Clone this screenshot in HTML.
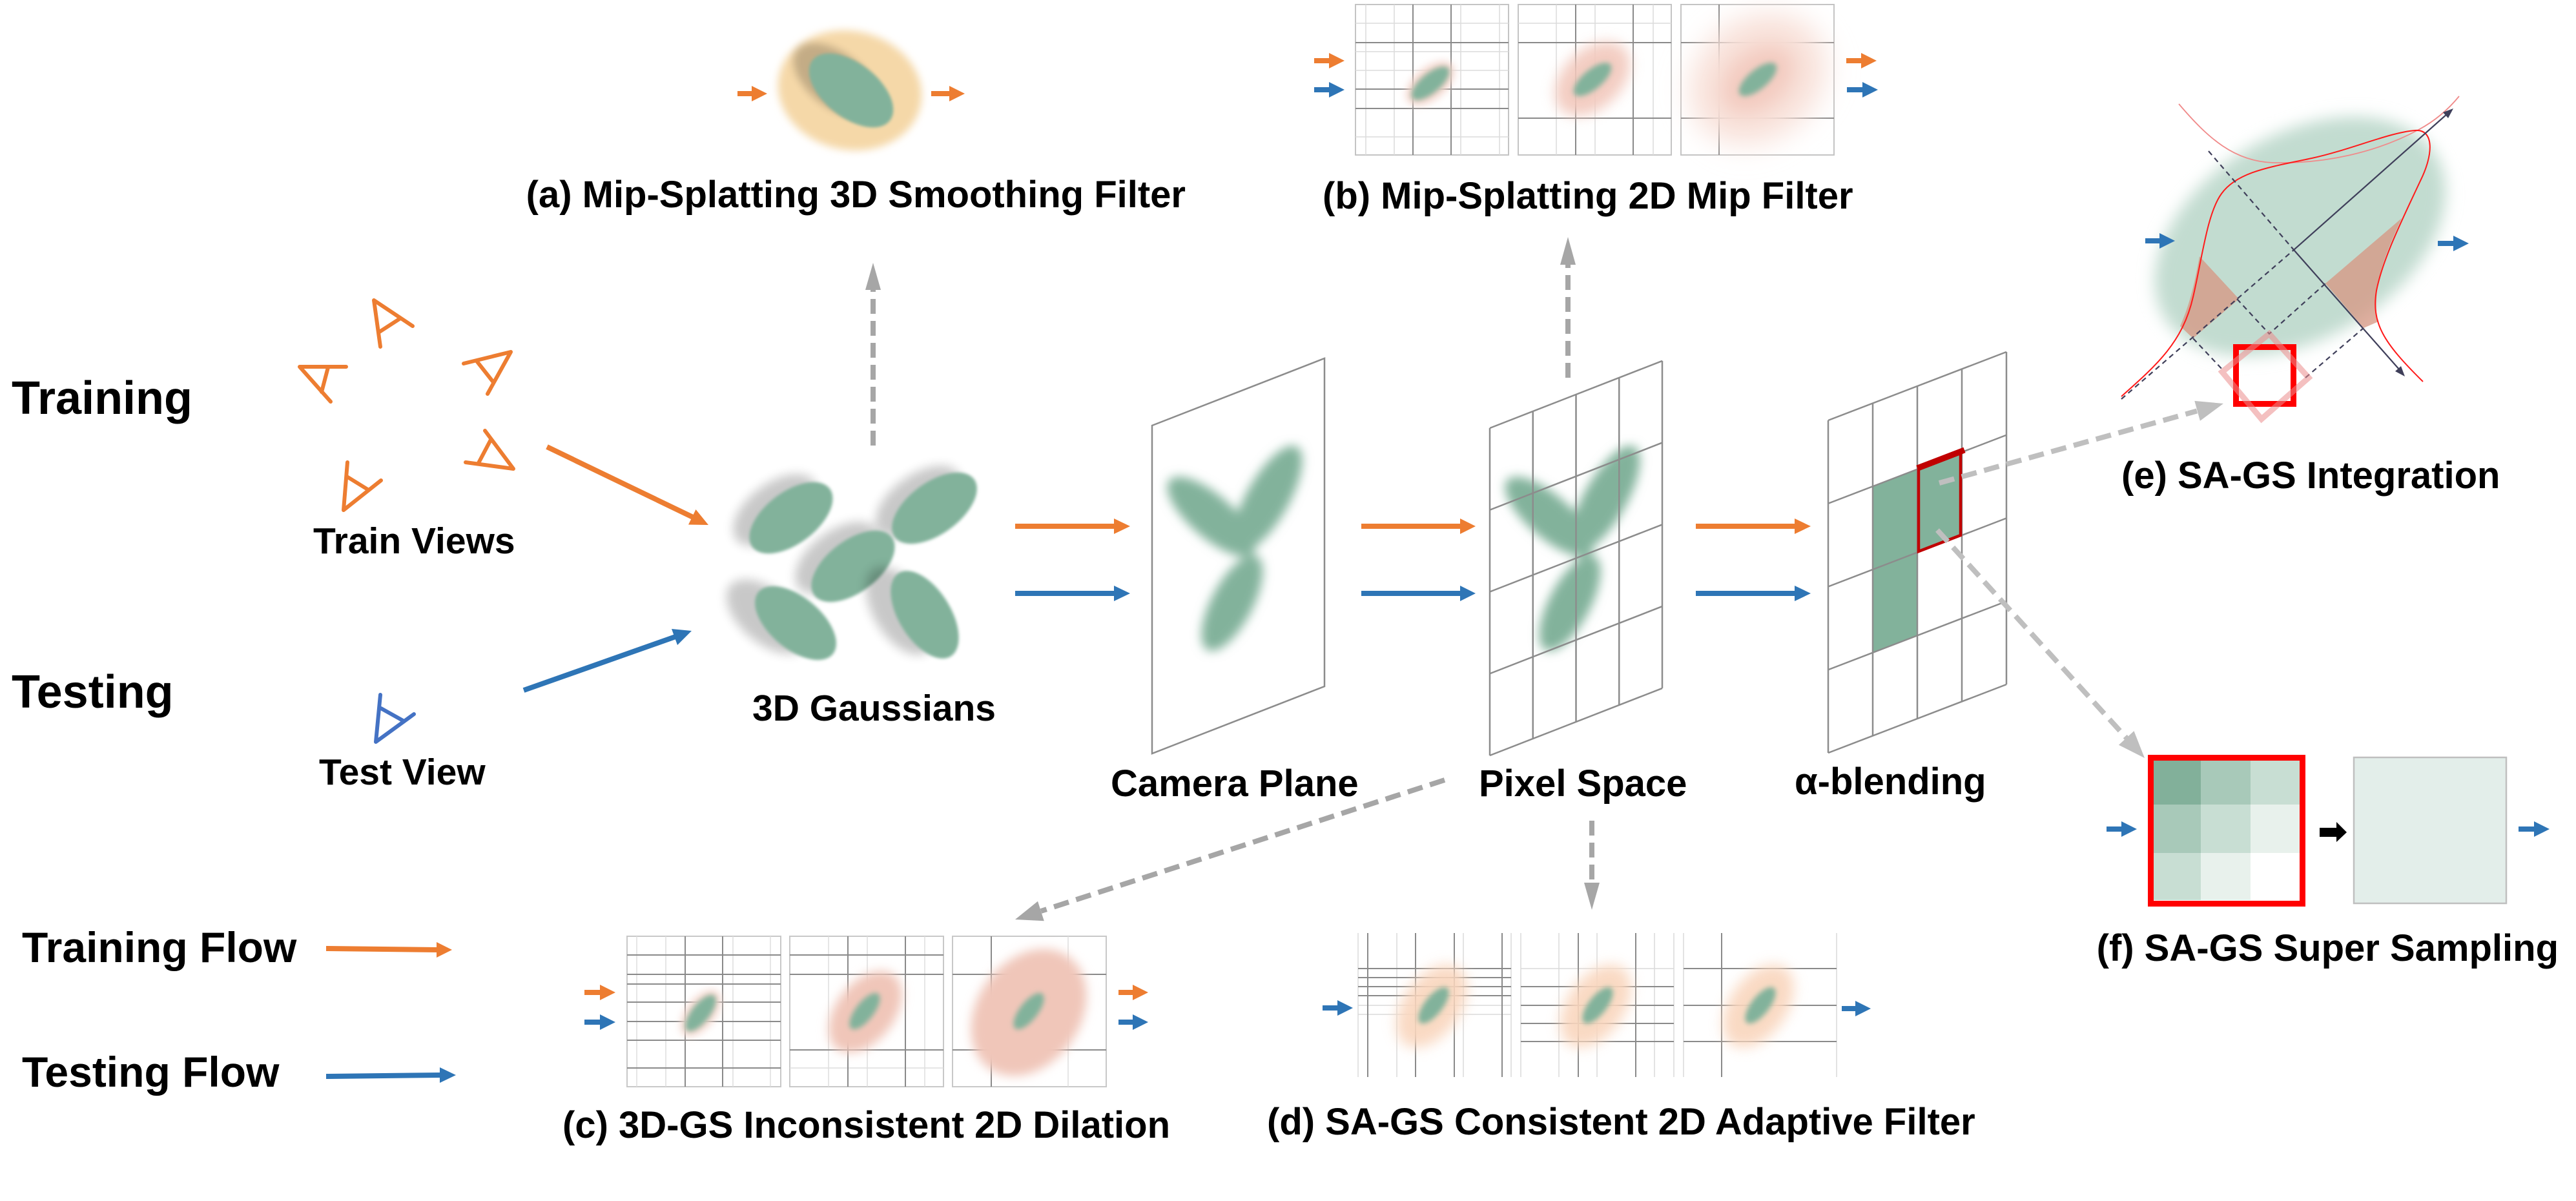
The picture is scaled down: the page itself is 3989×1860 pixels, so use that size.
<!DOCTYPE html>
<html><head><meta charset="utf-8"><style>
html,body{margin:0;padding:0;background:#fff;}
svg{display:block;}
text{font-family:"Liberation Sans",Arial,sans-serif;font-weight:bold;fill:#000;}
</style></head><body>
<svg width="3989" height="1860" viewBox="0 0 3989 1860" xmlns="http://www.w3.org/2000/svg">
<defs>
<filter id="b2" x="-50%" y="-50%" width="200%" height="200%"><feGaussianBlur stdDeviation="2.5"/></filter>
<filter id="b4" x="-50%" y="-50%" width="200%" height="200%"><feGaussianBlur stdDeviation="4"/></filter>
<filter id="b6" x="-50%" y="-50%" width="200%" height="200%"><feGaussianBlur stdDeviation="6"/></filter>
<filter id="b8" x="-50%" y="-50%" width="200%" height="200%"><feGaussianBlur stdDeviation="8"/></filter>
<filter id="b10" x="-50%" y="-50%" width="200%" height="200%"><feGaussianBlur stdDeviation="10"/></filter>
<filter id="b12" x="-50%" y="-50%" width="200%" height="200%"><feGaussianBlur stdDeviation="12"/></filter>
<filter id="b14" x="-50%" y="-50%" width="200%" height="200%"><feGaussianBlur stdDeviation="14"/></filter>
<filter id="b22" x="-50%" y="-50%" width="200%" height="200%"><feGaussianBlur stdDeviation="22"/></filter>
</defs>
<rect width="3989" height="1860" fill="#fff"/>

<!-- Left labels -->
<text x="18" y="641" font-size="72">Training</text>
<text x="18" y="1096" font-size="72">Testing</text>
<text x="485" y="857" font-size="57">Train Views</text>
<text x="494" y="1215" font-size="57">Test View</text>

<!-- Cameras -->
<g fill="none" stroke="#ed7d31" stroke-width="6" stroke-linecap="round" stroke-linejoin="round">
<path d="M589,537 L579,465 L639,505 M586,515 L620,493"/>
<path d="M536,568 L464,568 L512,622 M508,569 L498,607"/>
<path d="M718,563 L791,545 L755,610 M738,559 L764,592"/>
<path d="M751,667 L795,726 L721,716 M760,681 L741,717"/>
<path d="M538,716 L532,790 L590,744 M537,738 L571,759"/>
</g>
<path d="M589,1076 L582,1149 L641,1106 M590,1097 L624,1116" fill="none" stroke="#4472c4" stroke-width="6" stroke-linecap="round" stroke-linejoin="round"/>

<!-- diagonal input arrows -->
<line x1="847" y1="692" x2="1073" y2="801" stroke="#ed7d31" stroke-width="8"/>
<polygon points="1097,813 1066,812.5 1077.5,789" fill="#ed7d31"/>
<line x1="811" y1="1069" x2="1046" y2="986" stroke="#2e75b6" stroke-width="8"/>
<polygon points="1071,977 1049,999 1040,974" fill="#2e75b6"/>

<!-- 3D Gaussians -->
<g>
<ellipse cx="1200" cy="790" rx="75" ry="41" transform="rotate(-37 1200 790)" fill="#000" opacity="0.21" filter="url(#b8)"/>
<ellipse cx="1225" cy="802" rx="75" ry="40" transform="rotate(-37 1225 802)" fill="#82b29b" filter="url(#b2)"/>
<ellipse cx="1422" cy="777" rx="76" ry="41" transform="rotate(-36 1422 777)" fill="#000" opacity="0.21" filter="url(#b8)"/>
<ellipse cx="1447" cy="787" rx="76" ry="40" transform="rotate(-36 1447 787)" fill="#82b29b" filter="url(#b2)"/>
<ellipse cx="1296" cy="864" rx="75" ry="41" transform="rotate(-37 1296 864)" fill="#000" opacity="0.21" filter="url(#b8)"/>
<ellipse cx="1321" cy="877" rx="75" ry="40" transform="rotate(-37 1321 877)" fill="#82b29b" filter="url(#b2)"/>
<ellipse cx="1188" cy="955" rx="75" ry="41" transform="rotate(40 1188 955)" fill="#000" opacity="0.21" filter="url(#b8)"/>
<ellipse cx="1232" cy="965" rx="75" ry="40" transform="rotate(40 1232 965)" fill="#82b29b" filter="url(#b2)"/>
<ellipse cx="1394" cy="946" rx="76" ry="41" transform="rotate(58 1394 946)" fill="#000" opacity="0.21" filter="url(#b8)"/>
<ellipse cx="1432" cy="952" rx="76" ry="40" transform="rotate(58 1432 952)" fill="#82b29b" filter="url(#b2)"/>
</g>
<text x="1165" y="1116" font-size="57">3D Gaussians</text>

<!-- dashed up arrow to (a) -->
<line x1="1352" y1="690" x2="1352" y2="447" stroke="#a6a6a6" stroke-width="8" stroke-dasharray="23 11"/>
<polygon points="1352,407 1340,449 1364,449" fill="#a6a6a6"/>

<!-- (a) panel -->
<ellipse cx="1316" cy="140" rx="112" ry="92" transform="rotate(12 1316 140)" fill="#f5d8a8" filter="url(#b6)"/>
<ellipse cx="1294" cy="124" rx="76" ry="42" transform="rotate(38 1294 124)" fill="#000" opacity="0.2" filter="url(#b6)"/>
<ellipse cx="1318" cy="140" rx="76" ry="42" transform="rotate(38 1318 140)" fill="#82b29b" filter="url(#b2)"/>
<polygon points="1142,141 1164,141 1164,133 1188,145 1164,157 1164,149 1142,149" fill="#ed7d31"/>
<polygon points="1442,141 1470,141 1470,133 1494,145 1470,157 1470,149 1442,149" fill="#ed7d31"/>
<text x="1836" y="321" font-size="58" text-anchor="end">(a) Mip-Splatting 3D Smoothing Filter</text>

<!-- (b) panel -->
<g fill="none">
<rect x="2099" y="7" width="237" height="233" stroke="#c4c4c4" stroke-width="2"/>
<rect x="2351" y="7" width="237" height="233" stroke="#c4c4c4" stroke-width="2"/>
<rect x="2603" y="7" width="237" height="233" stroke="#c4c4c4" stroke-width="2"/>
<g stroke="#dcdcdc" stroke-width="1.5">
<path d="M2115,7V240M2159,7V240M2262,7V240M2322,7V240M2099,36H2336M2099,80H2336M2099,109H2336M2099,212H2336"/>
<path d="M2410,7V240M2470,7V240M2560,7V240M2351,36H2588"/>
</g>
<g stroke="#8a8a8a" stroke-width="2">
<path d="M2188,7V240M2247,7V240M2099,66H2336M2099,138H2336M2099,168H2336"/>
<path d="M2440,7V240M2529,7V240M2351,66H2588M2351,183H2588"/>
<path d="M2662,7V240M2603,66H2840M2603,183H2840"/>
</g>
</g>
<ellipse cx="2215" cy="129" rx="44" ry="24" transform="rotate(-40 2215 129)" fill="#f3d3c9" filter="url(#b6)"/>
<ellipse cx="2215" cy="129" rx="36" ry="15" transform="rotate(-40 2215 129)" fill="#82b29b" filter="url(#b4)"/>
<ellipse cx="2466" cy="122" rx="68" ry="45" transform="rotate(-44 2466 122)" fill="#f2c8bc" opacity="0.9" filter="url(#b10)"/>
<ellipse cx="2466" cy="123" rx="36" ry="15" transform="rotate(-40 2466 123)" fill="#82b29b" filter="url(#b4)"/>
<ellipse cx="2722" cy="122" rx="112" ry="92" transform="rotate(-40 2722 122)" fill="#f8e0d8" filter="url(#b22)"/>
<ellipse cx="2722" cy="123" rx="62" ry="42" transform="rotate(-40 2722 123)" fill="#f3cbc0" filter="url(#b14)"/>
<ellipse cx="2722" cy="123" rx="36" ry="15" transform="rotate(-40 2722 123)" fill="#82b29b" filter="url(#b4)"/>
<polygon points="2035,90 2058,90 2058,82 2082,94 2058,106 2058,98 2035,98" fill="#ed7d31"/>
<polygon points="2035,135 2058,135 2058,127 2082,139 2058,151 2058,143 2035,143" fill="#2e75b6"/>
<polygon points="2859,90 2882,90 2882,82 2906,94 2882,106 2882,98 2859,98" fill="#ed7d31"/>
<polygon points="2860,135 2884,135 2884,127 2908,139 2884,151 2884,143 2860,143" fill="#2e75b6"/>
<text x="2048" y="323" font-size="58">(b) Mip-Splatting 2D Mip Filter</text>

<!-- dashed up arrow to (b) -->
<line x1="2428" y1="585" x2="2428" y2="408" stroke="#a6a6a6" stroke-width="8" stroke-dasharray="23 11"/>
<polygon points="2428,367 2416,410 2440,410" fill="#a6a6a6"/>

<!-- main flow arrows -->
<g fill="#ed7d31">
<polygon points="1572,811 1725,811 1725,803 1750,815 1725,827 1725,819 1572,819"/>
<polygon points="2108,811 2261,811 2261,803 2285,815 2261,827 2261,819 2108,819"/>
<polygon points="2626,811 2779,811 2779,803 2804,815 2779,827 2779,819 2626,819"/>
</g>
<g fill="#2e75b6">
<polygon points="1572,915 1725,915 1725,907 1750,919 1725,931 1725,923 1572,923"/>
<polygon points="2108,915 2261,915 2261,907 2285,919 2261,931 2261,923 2108,923"/>
<polygon points="2626,915 2779,915 2779,907 2804,919 2779,931 2779,923 2626,923"/>
</g>

<!-- Camera plane -->
<polygon points="1784,659 2051,555 2051,1063 1784,1167" fill="none" stroke="#8c8c8c" stroke-width="2.5"/>
<g fill="#82b29b" filter="url(#b8)">
<ellipse cx="1876" cy="800" rx="86" ry="33" transform="rotate(41 1876 800)"/>
<ellipse cx="1963" cy="772" rx="92" ry="33" transform="rotate(-60.6 1963 772)"/>
<ellipse cx="1908" cy="934" rx="82" ry="32" transform="rotate(-62.3 1908 934)"/>
</g>
<text x="1720" y="1233" font-size="58">Camera Plane</text>

<!-- Pixel space -->
<g transform="translate(523,0)" fill="#82b29b" filter="url(#b8)">
<ellipse cx="1876" cy="800" rx="86" ry="33" transform="rotate(41 1876 800)"/>
<ellipse cx="1963" cy="772" rx="92" ry="33" transform="rotate(-60.6 1963 772)"/>
<ellipse cx="1908" cy="934" rx="82" ry="32" transform="rotate(-62.3 1908 934)"/>
</g>
<g stroke="#8c8c8c" stroke-width="2.5" fill="none">
<path d="M2307,663V1170M2373.75,637V1144M2440.5,610.9V1117.9M2507.25,584.9V1091.9M2574,558.9V1065.9"/>
<path d="M2307,663L2574,558.9M2307,789.75L2574,685.6M2307,916.5L2574,812.4M2307,1043.25L2574,939.1M2307,1170L2574,1065.9"/>
</g>
<text x="2290" y="1233" font-size="58">Pixel Space</text>

<!-- alpha blending -->
<polygon points="2900,753.25 2969,726.75 2969,984.25 2900,1010.75" fill="#82b29b"/>
<polygon points="2969,726.75 3038,700.25 3038,829 2969,855.5" fill="#82b29b"/>
<g stroke="#8c8c8c" stroke-width="2.5" fill="none">
<path d="M2831,651V1166M2900,624.5V1139.5M2969,598V1113M3038,571.5V1086.5M3107,545V1060"/>
<path d="M2831,651L3107,545M2831,779.75L3107,673.75M2831,908.5L3107,802.5M2831,1037.25L3107,931.25M2831,1166L3107,1060"/>
</g>
<polygon points="2971,727 3036,702 3036,829 2971,854" fill="none" stroke="#c00000" stroke-width="4.5"/>
<line x1="2969" y1="725" x2="3042" y2="697" stroke="#c00000" stroke-width="9"/>
<text x="2779" y="1230" font-size="58">α-blending</text>

<!-- dashed arrows from alpha cell -->
<line x1="3003" y1="748" x2="3402" y2="636.5" stroke="#bfbfbf" stroke-width="8" stroke-dasharray="24 12"/>
<polygon points="3443,625 3406.9,651.7 3398.3,620.9" fill="#bfbfbf"/>
<line x1="3000" y1="821" x2="3293" y2="1143" stroke="#bfbfbf" stroke-width="8" stroke-dasharray="24 12"/>
<polygon points="3321,1174 3280.9,1153.7 3304.5,1132.1" fill="#bfbfbf"/>

<!-- (e) panel -->
<ellipse cx="3562" cy="366" rx="245" ry="158" transform="rotate(-31 3562 366)" fill="#c2dcd0" filter="url(#b12)"/>
<path d="M3406,397 L3467,463 L3396,524 L3376,505 C3392,470 3400,430 3406,397 Z" fill="rgb(215,150,130)" opacity="0.75"/>
<path d="M3601,439 L3719,338 C3700,380 3682,420 3680,460 C3679,480 3680,490 3683,498 L3660,508 Z" fill="rgb(215,150,130)" opacity="0.75"/>
<path d="M3374,161 C3420,215 3460,250 3520,252 C3600,254 3680,236 3745,201 C3775,185 3795,165 3808,149" fill="none" stroke="#f08a8a" stroke-width="1.8"/>
<path d="M3285,614 C3340,565 3380,530 3396,460 C3410,400 3418,330 3440,300 C3465,265 3520,258 3580,245 C3640,232 3700,205 3740,202 C3770,200 3768,240 3748,280 C3720,340 3690,400 3680,450 C3672,500 3690,530 3752,591" fill="none" stroke="#ff1a1a" stroke-width="2"/>
<g stroke="#3f3f5a" stroke-width="2.2" fill="none">
<path d="M3285,618 L3552,387 M3420,234 L3552,387 M3464,463 L3514,517 L3601,439 M3396,524 L3443,574 M3570,585 L3660,508" stroke-dasharray="8 6"/>
<path d="M3552,387 L3790,176 M3552,387 L3716,573"/>
</g>
<polygon points="3799,168 3791,183 3783,174" fill="#3f3f5a"/>
<polygon points="3724,583 3709,575 3718,567" fill="#3f3f5a"/>
<rect x="3462.5" y="537.5" width="89" height="88" fill="none" stroke="#ff0000" stroke-width="9"/>
<polygon points="3514,517 3575,585 3502,649 3441,576" fill="none" stroke="rgb(235,140,140)" stroke-opacity="0.55" stroke-width="9"/>
<polygon points="3322,369 3344,369 3344,361 3368,373 3344,385 3344,377 3322,377" fill="#2e75b6"/>
<polygon points="3775,373 3799,373 3799,365 3823,377 3799,389 3799,381 3775,381" fill="#2e75b6"/>
<text x="3285" y="756" font-size="58">(e) SA-GS Integration</text>

<!-- (f) panel -->
<rect x="3335" y="1178" width="73" height="68" fill="#82b09a"/>
<rect x="3408" y="1178" width="77" height="68" fill="#a8c9b9"/>
<rect x="3485" y="1178" width="76" height="68" fill="#c8ded3"/>
<rect x="3335" y="1246" width="73" height="75" fill="#a8c9b9"/>
<rect x="3408" y="1246" width="77" height="75" fill="#c8ded3"/>
<rect x="3485" y="1246" width="76" height="75" fill="#e8f1ec"/>
<rect x="3335" y="1321" width="73" height="73" fill="#c8ded3"/>
<rect x="3408" y="1321" width="77" height="73" fill="#e8f1ec"/>
<rect x="3485" y="1321" width="76" height="73" fill="#ffffff"/>
<rect x="3330.5" y="1173.5" width="235" height="226" fill="none" stroke="#ff0000" stroke-width="9"/>
<polygon points="3592,1282 3618,1282 3618,1273 3634,1289 3618,1304 3618,1296 3592,1296" fill="#000"/>
<rect x="3645" y="1173" width="236" height="226" fill="#e3eeea" stroke="#bfbfbf" stroke-width="2.5"/>
<polygon points="3262,1280 3285,1280 3285,1272 3309,1284 3285,1296 3285,1288 3262,1288" fill="#2e75b6"/>
<polygon points="3900,1280 3924,1280 3924,1272 3948,1284 3924,1296 3924,1288 3900,1288" fill="#2e75b6"/>
<text x="3962" y="1488" font-size="58" text-anchor="end">(f) SA-GS Super Sampling</text>

<!-- dashed arrow to (c) -->
<line x1="2237" y1="1208" x2="1612" y2="1411" stroke="#a6a6a6" stroke-width="8" stroke-dasharray="24 12"/>
<polygon points="1572,1424 1607,1395.8 1616.8,1426.2" fill="#a6a6a6"/>
<!-- dashed arrow to (d) -->
<line x1="2465" y1="1271" x2="2465" y2="1369" stroke="#a6a6a6" stroke-width="8" stroke-dasharray="23 11"/>
<polygon points="2465,1409 2453,1367 2477,1367" fill="#a6a6a6"/>

<!-- (c) panel -->
<g fill="none">
<rect x="971" y="1450" width="238" height="233" stroke="#c8c8c8" stroke-width="2"/>
<rect x="1223" y="1450" width="238" height="233" stroke="#c8c8c8" stroke-width="2"/>
<rect x="1475" y="1450" width="238" height="233" stroke="#c8c8c8" stroke-width="2"/>
<g stroke="#dedede" stroke-width="1.5">
<path d="M986,1450V1683M1031,1450V1683M1135,1450V1683M1193,1450V1683"/>
<path d="M1283,1450V1683M1343,1450V1683M1432,1450V1683M1223,1654H1461"/>
<path d="M1654,1450V1683"/>
</g>
<g stroke="#8a8a8a" stroke-width="2">
<path d="M1061,1450V1683M1119,1450V1683M971,1479H1209M971,1509H1209M971,1524H1209M971,1552H1209M971,1582H1209M971,1611H1209M971,1654H1209"/>
<path d="M1313,1450V1683M1402,1450V1683M1223,1479H1461M1223,1509H1461M1223,1626H1461"/>
<path d="M1535,1450V1683M1475,1509H1713M1475,1626H1713"/>
</g>
</g>
<ellipse cx="1085" cy="1569" rx="42" ry="22" transform="rotate(-52 1085 1569)" fill="#f3d6cc" filter="url(#b6)"/>
<ellipse cx="1085" cy="1569" rx="34" ry="14" transform="rotate(-52 1085 1569)" fill="#82b29b" filter="url(#b4)"/>
<ellipse cx="1340" cy="1567" rx="72" ry="45" transform="rotate(-52 1340 1567)" fill="#f0c6b9" filter="url(#b8)"/>
<ellipse cx="1339" cy="1566" rx="34" ry="14" transform="rotate(-52 1339 1566)" fill="#82b29b" filter="url(#b4)"/>
<ellipse cx="1593" cy="1568" rx="106" ry="80" transform="rotate(-55 1593 1568)" fill="#f0c6b9" filter="url(#b8)"/>
<ellipse cx="1593" cy="1566" rx="34" ry="14" transform="rotate(-52 1593 1566)" fill="#82b29b" filter="url(#b4)"/>
<polygon points="905,1533 929,1533 929,1525 953,1537 929,1549 929,1541 905,1541" fill="#ed7d31"/>
<polygon points="905,1579 929,1579 929,1571 953,1583 929,1595 929,1587 905,1587" fill="#2e75b6"/>
<polygon points="1732,1533 1754,1533 1754,1525 1778,1537 1754,1549 1754,1541 1732,1541" fill="#ed7d31"/>
<polygon points="1732,1579 1754,1579 1754,1571 1778,1583 1754,1595 1754,1587 1732,1587" fill="#2e75b6"/>
<text x="1812" y="1762" font-size="58" text-anchor="end">(c) 3D-GS Inconsistent 2D Dilation</text>

<!-- (d) panel -->
<g fill="none">
<g stroke="#dadada" stroke-width="1.5">
<path d="M2103,1445V1668M2163,1445V1668M2266,1445V1668M2340,1445V1668M2103,1557H2340M2103,1571H2340"/>
<path d="M2355,1445V1668M2414,1445V1668M2473,1445V1668M2562,1445V1668M2592,1445V1668M2355,1500H2592"/>
<path d="M2607,1445V1668M2844,1445V1668"/>
</g>
<g stroke="#8a8a8a" stroke-width="2">
<path d="M2118,1445V1668M2192,1445V1668M2252,1445V1668M2326,1445V1668M2103,1500H2340M2103,1514H2340M2103,1528H2340M2103,1542H2340"/>
<path d="M2444,1445V1668M2533,1445V1668M2355,1528H2592M2355,1557H2592M2355,1585H2592M2355,1613H2592"/>
<path d="M2666,1445V1668M2607,1500H2844M2607,1557H2844M2607,1613H2844"/>
</g>
</g>
<ellipse cx="2217" cy="1558" rx="72" ry="44" transform="rotate(-55 2217 1558)" fill="#f9d6bd" opacity="0.9" filter="url(#b10)"/>
<ellipse cx="2220" cy="1557" rx="34" ry="14" transform="rotate(-52 2220 1557)" fill="#82b29b" filter="url(#b4)"/>
<ellipse cx="2471" cy="1558" rx="72" ry="44" transform="rotate(-55 2471 1558)" fill="#f9d6bd" opacity="0.9" filter="url(#b10)"/>
<ellipse cx="2474" cy="1557" rx="34" ry="14" transform="rotate(-52 2474 1557)" fill="#82b29b" filter="url(#b4)"/>
<ellipse cx="2723" cy="1558" rx="72" ry="44" transform="rotate(-55 2723 1558)" fill="#f9d6bd" opacity="0.9" filter="url(#b10)"/>
<ellipse cx="2726" cy="1557" rx="34" ry="14" transform="rotate(-52 2726 1557)" fill="#82b29b" filter="url(#b4)"/>
<polygon points="2048,1557 2071,1557 2071,1549 2095,1561 2071,1573 2071,1565 2048,1565" fill="#2e75b6"/>
<polygon points="2852,1558 2873,1558 2873,1550 2897,1562 2873,1574 2873,1566 2852,1566" fill="#2e75b6"/>
<text x="1962" y="1757" font-size="58">(d) SA-GS Consistent 2D Adaptive Filter</text>

<!-- Legend -->
<text x="34" y="1490" font-size="66">Training Flow</text>
<text x="34" y="1683" font-size="66">Testing Flow</text>
<polygon points="505,1465 676,1467 676,1459 700,1471 676,1483 676,1475 505,1473" fill="#ed7d31"/>
<polygon points="505,1663 681,1661 681,1653 706,1665 681,1677 681,1669 505,1671" fill="#2e75b6"/>
</svg>
</body></html>
